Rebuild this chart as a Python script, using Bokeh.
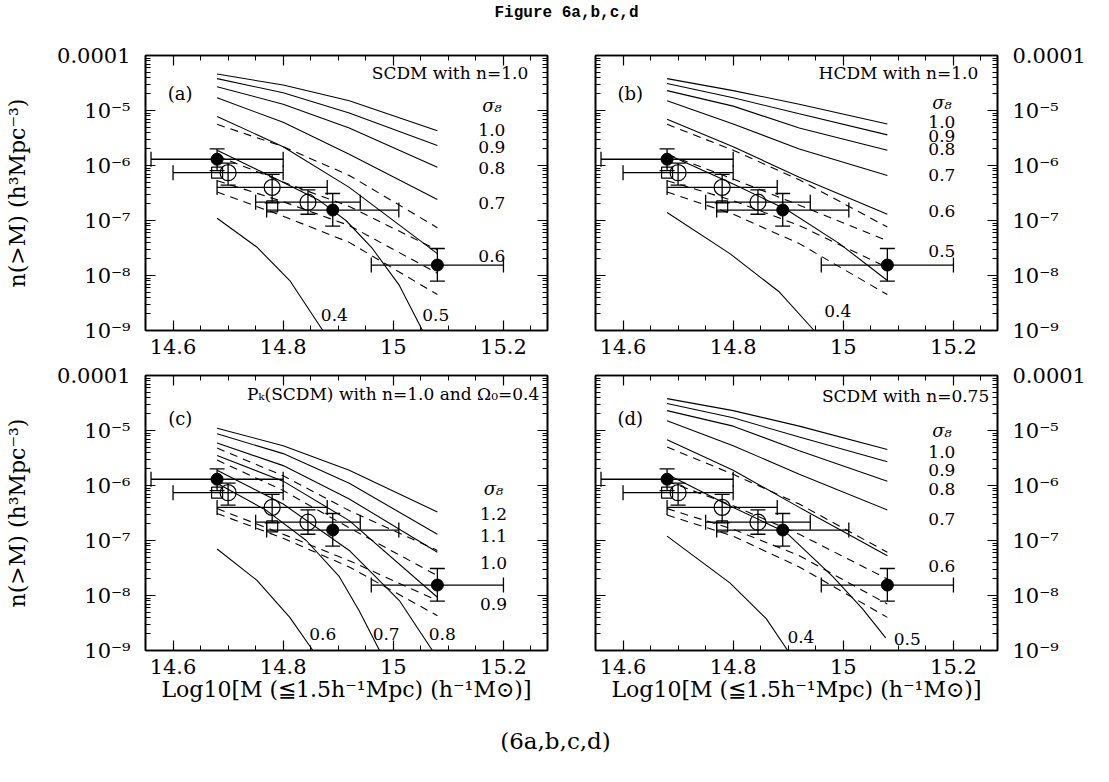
from bokeh.plotting import figure
from bokeh.models import (Range1d, LinearAxis, LogAxis, FixedTicker, Whisker,
                          TeeHead, ColumnDataSource, Label)
from bokeh.layouts import column, row
from bokeh.embed import file_html
from bokeh.resources import INLINE

SERIF = "DejaVu Serif"

# ---------------- cluster abundance data (same in all panels) ----------------
filled_logm = [14.68, 14.89, 15.08]
filled_n = [1.3e-6, 1.55e-7, 1.55e-8]
filled_n_hi = [2.0e-6, 3.1e-7, 3.1e-8]
filled_n_lo = [8.1e-7, 7.9e-8, 7.9e-9]
filled_logm_lo = [14.56, 14.77, 14.96]
filled_logm_hi = [14.80, 15.01, 15.20]

open_logm = [14.70, 14.78, 14.845]
open_n = [7.4e-7, 4.0e-7, 2.15e-7]
open_n_hi = [1.1e-6, 6.9e-7, 3.6e-7]
open_n_lo = [4.4e-7, 2.1e-7, 1.3e-7]
open_logm_lo = [14.60, 14.68, 14.75]
open_logm_hi = [14.80, 14.88, 14.94]

square_logm = [14.68, 14.78]
square_n = [7.4e-7, 1.8e-7]

# ---------------- model predictions ----------------
model_logm = [14.68, 14.80, 14.92, 15.08]

# (a) SCDM, n = 1.0
a_s10 = [4.6e-5, 2.9e-5, 1.5e-5, 4.3e-6]
a_s09 = [3.8e-5, 2.1e-5, 9.0e-6, 2.3e-6]
a_s08 = [2.7e-5, 1.3e-5, 4.8e-6, 9.3e-7]
a_s07 = [1.7e-5, 6.1e-6, 1.6e-6, 2.4e-7]
a_s06 = [7.8e-6, 2.2e-6, 4.0e-7, 2.5e-8]
a_s05_logm = [14.68, 14.794, 14.866, 14.914, 14.962, 15.011, 15.053]
a_s05 = [1.9e-6, 5.3e-7, 2.3e-7, 1.0e-7, 3.1e-8, 6.6e-9, 1.0e-9]
a_s04_logm = [14.68, 14.752, 14.812, 14.872]
a_s04 = [1.1e-7, 3.3e-8, 8.1e-9, 1.0e-9]
a_d1 = [5.6e-6, 2.2e-6, 6.6e-7, 7.4e-8]
a_d2 = [1.5e-6, 5.0e-7, 1.8e-7, 2.9e-8]
a_d3 = [5.3e-7, 2.2e-7, 8.1e-8, 1.1e-8]
a_d4 = [3.3e-7, 1.2e-7, 4.0e-8, 4.5e-9]

# (b) HCDM, n = 1.0
b_s10 = [3.8e-5, 2.3e-5, 1.3e-5, 5.7e-6]
b_s09 = [3.1e-5, 1.7e-5, 8.7e-6, 3.6e-6]
b_s08 = [2.3e-5, 1.2e-5, 4.8e-6, 1.9e-6]
b_s07 = [1.5e-5, 5.7e-6, 2.0e-6, 6.6e-7]
b_s06 = [6.9e-6, 2.2e-6, 6.1e-7, 1.3e-7]
b_s05_logm = [14.68, 14.80, 14.896, 14.993, 15.08]
b_s05 = [1.6e-6, 4.6e-7, 1.6e-7, 3.8e-8, 8.1e-9]
b_s04_logm = [14.68, 14.794, 14.884, 14.947]
b_s04 = [1.4e-7, 2.5e-8, 5.0e-9, 1.0e-9]
b_d1 = [5.6e-6, 1.9e-6, 5.5e-7, 7.6e-8]
b_d2 = [1.6e-6, 5.7e-7, 1.9e-7, 4.3e-8]
b_d3 = [5.3e-7, 2.3e-7, 8.1e-8, 1.4e-8]
b_d4 = [3.3e-7, 1.3e-7, 3.8e-8, 4.5e-9]

# (c) P_k(SCDM), n = 1.0, Omega_0 = 0.4
c_s12 = [1.1e-5, 5.3e-6, 1.9e-6, 3.3e-7]
c_s11 = [8.7e-6, 3.8e-6, 1.1e-6, 1.3e-7]
c_s10 = [5.9e-6, 2.3e-6, 5.7e-7, 6.1e-8]
c_s09 = [3.5e-6, 1.2e-6, 2.3e-7, 9.3e-9]
c_s08_logm = [14.68, 14.80, 14.92, 15.011, 15.071]
c_s08 = [1.9e-6, 4.6e-7, 6.6e-8, 8.1e-9, 1.0e-9]
c_s07_logm = [14.68, 14.770, 14.842, 14.902, 14.938, 14.975]
c_s07 = [1.1e-6, 3.5e-7, 1.0e-7, 2.2e-8, 5.3e-9, 1.0e-9]
c_s06_logm = [14.68, 14.752, 14.812, 14.854]
c_s06 = [7.0e-8, 1.9e-8, 4.0e-9, 1.0e-9]
c_d1 = [4.8e-6, 1.5e-6, 3.5e-7, 6.6e-8]
c_d2 = [2.9e-6, 8.1e-7, 1.7e-7, 2.3e-8]
c_d3 = [3.8e-7, 1.3e-7, 4.3e-8, 8.1e-9]
c_d4 = [3.1e-7, 1.1e-7, 3.3e-8, 4.3e-9]

# (d) SCDM, n = 0.75
d_s10 = [3.8e-5, 2.3e-5, 1.2e-5, 4.5e-6]
d_s09 = [3.1e-5, 1.7e-5, 7.6e-6, 2.7e-6]
d_s08 = [2.3e-5, 1.2e-5, 4.3e-6, 1.2e-6]
d_s07 = [1.5e-5, 5.3e-6, 1.6e-6, 3.6e-7]
d_s06 = [6.8e-6, 1.9e-6, 4.0e-7, 5.3e-8]
d_s05_logm = [14.68, 14.80, 14.896, 14.981, 15.035, 15.077]
d_s05 = [1.6e-6, 4.0e-7, 1.4e-7, 2.2e-8, 5.7e-9, 1.7e-9]
d_s04_logm = [14.68, 14.794, 14.860, 14.899]
d_s04 = [1.2e-7, 1.7e-8, 3.8e-9, 1.0e-9]
d_d1 = [5.0e-6, 1.6e-6, 4.6e-7, 6.1e-8]
d_d2 = [1.2e-6, 4.3e-7, 1.3e-7, 2.0e-8]
d_d3 = [3.8e-7, 1.6e-7, 5.3e-8, 7.0e-9]
d_d4 = [2.9e-7, 1.2e-7, 3.3e-8, 4.0e-9]

# ---------------- axes ----------------
x_major = [14.6, 14.8, 15.0, 15.2]
x_tick_labels = ["14.6", "14.8", "15", "15.2"]
x_minor = [14.55, 14.65, 14.7, 14.75, 14.85, 14.9, 14.95, 15.05, 15.1, 15.15, 15.25]
y_major = [1e-9, 1e-8, 1e-7, 1e-6, 1e-5, 1e-4]
y_tick_labels = ["10⁻⁹", "10⁻⁸", "10⁻⁷", "10⁻⁶", "10⁻⁵", "0.0001"]
y_minor = [k * 10.0 ** e for e in range(-9, -4) for k in range(2, 10)]

X_RANGE = (14.55, 15.28)
Y_RANGE = (1e-9, 1e-4)
FRAME_W, FRAME_H = 402, 275
TICK_FONT = "21px"
TITLE_FONT = "22px"
INNER_FONT = "17px"


def style_axis(ax, labels):
    ax.axis_line_color = "black"
    ax.axis_line_width = 1.6
    ax.major_tick_in = 10
    ax.major_tick_out = 0
    ax.minor_tick_in = 5
    ax.minor_tick_out = 0
    ax.major_tick_line_width = 1.2
    ax.minor_tick_line_width = 1.0
    ax.major_label_text_font = SERIF
    ax.major_label_text_color = "black"
    ax.axis_label_text_color = "black"
    if labels is None:
        ax.major_label_overrides = {t: "" for t in ax.ticker.ticks}
        ax.major_label_text_font_size = "1px"
        ax.major_label_standoff = 0
    else:
        ax.major_label_overrides = dict(zip(ax.ticker.ticks, labels))
        ax.major_label_text_font_size = TICK_FONT


def panel(spec, width, height, borders, left_lab, right_lab, xtitle, ytitle):
    bl, br, bt, bb = borders
    p = figure(width=width, height=height,
               x_range=Range1d(*X_RANGE), y_range=Range1d(*Y_RANGE),
               y_axis_type="log", x_axis_location=None, y_axis_location=None,
               toolbar_location=None, output_backend="svg",
               min_border_left=bl, min_border_right=br,
               min_border_top=bt, min_border_bottom=bb)
    p.grid.visible = False
    p.outline_line_color = "black"
    p.outline_line_width = 1.6
    p.background_fill_color = "white"
    p.border_fill_color = "white"

    for loc in ("below", "above"):
        ax = LinearAxis(ticker=FixedTicker(ticks=x_major, minor_ticks=x_minor))
        style_axis(ax, x_tick_labels if loc == "below" else None)
        if loc == "below":
            ax.major_label_standoff = 8
            if xtitle:
                ax.axis_label = xtitle
                ax.axis_label_text_font = SERIF
                ax.axis_label_text_font_size = TITLE_FONT
                ax.axis_label_text_font_style = "normal"
                ax.axis_label_standoff = 0
        p.add_layout(ax, loc)

    for loc, lab in (("left", left_lab), ("right", right_lab)):
        ax = LogAxis(ticker=FixedTicker(ticks=y_major, minor_ticks=y_minor))
        style_axis(ax, y_tick_labels if lab else None)
        if lab:
            ax.major_label_standoff = 15
        if loc == "left" and ytitle:
            ax.axis_label = ytitle
            ax.axis_label_text_font = SERIF
            ax.axis_label_text_font_size = TITLE_FONT
            ax.axis_label_text_font_style = "normal"
            ax.axis_label_standoff = 24
        p.add_layout(ax, loc)

    # model curves
    for xs, ys in spec["solid"]:
        p.line(xs, ys, line_color="black", line_width=1.1)
    for xs, ys in spec["dashed"]:
        p.line(xs, ys, line_color="black", line_width=1.1, line_dash="8 6")

    # error bars
    head = dict(size=15, line_width=1.3, line_color="black")
    for base, lo, hi, dim in (
            (filled_logm, filled_n_lo, filled_n_hi, "height"),
            (open_logm, open_n_lo, open_n_hi, "height"),
            (filled_n, filled_logm_lo, filled_logm_hi, "width"),
            (open_n, open_logm_lo, open_logm_hi, "width")):
        src = ColumnDataSource(dict(base=base, lower=lo, upper=hi))
        p.add_layout(Whisker(source=src, base="base", lower="lower", upper="upper",
                             dimension=dim, line_color="black", line_width=1.3,
                             upper_head=TeeHead(**head), lower_head=TeeHead(**head),
                             level="glyph"))

    # data points
    p.scatter(square_logm, square_n, marker="square", size=11,
              fill_color=None, line_color="black", line_width=1.2)
    p.scatter(open_logm, open_n, marker="circle", size=16,
              fill_color=None, line_color="black", line_width=1.2)
    p.scatter(filled_logm, filled_n, marker="circle", size=12,
              fill_color="black", line_color="black")

    for x, y, text, align, size, style in spec["texts"]:
        p.add_layout(Label(x=x, y=y, text=text, text_align=align,
                           text_baseline="middle", text_font=SERIF,
                           text_font_size=size, text_font_style=style,
                           text_color="black"))
    return p


def sigma_texts(x, entries):
    return [(x, y, t, "center", INNER_FONT, "normal") for y, t in entries]


def tag(x, y, t):
    return (x, y, t, "center", INNER_FONT, "normal")


spec_a = dict(
    solid=[(model_logm, a_s10), (model_logm, a_s09), (model_logm, a_s08),
           (model_logm, a_s07), (model_logm, a_s06),
           (a_s05_logm, a_s05), (a_s04_logm, a_s04)],
    dashed=[(model_logm, a_d1), (model_logm, a_d2), (model_logm, a_d3), (model_logm, a_d4)],
    texts=[(14.613, 2.0e-5, "(a)", "center", "18px", "normal"),
           (15.245, 4.9e-5, "SCDM with n=1.0", "right", INNER_FONT, "normal"),
           (15.179, 1.23e-5, "σ₈", "center", "18px", "italic")]
    + sigma_texts(15.179, [(4.4e-6, "1.0"), (2.2e-6, "0.9"), (9.0e-7, "0.8"),
                           (2.1e-7, "0.7"), (2.3e-8, "0.6")])
    + [tag(14.893, 1.9e-9, "0.4"), tag(15.077, 1.9e-9, "0.5")],
)

spec_b = dict(
    solid=[(model_logm, b_s10), (model_logm, b_s09), (model_logm, b_s08),
           (model_logm, b_s07), (model_logm, b_s06),
           (b_s05_logm, b_s05), (b_s04_logm, b_s04)],
    dashed=[(model_logm, b_d1), (model_logm, b_d2), (model_logm, b_d3), (model_logm, b_d4)],
    texts=[(14.613, 2.0e-5, "(b)", "center", "18px", "normal"),
           (15.245, 4.9e-5, "HCDM with n=1.0", "right", INNER_FONT, "normal"),
           (15.179, 1.4e-5, "σ₈", "center", "18px", "italic")]
    + sigma_texts(15.179, [(6.3e-6, "1.0"), (3.4e-6, "0.9"), (2.0e-6, "0.8"),
                           (6.6e-7, "0.7"), (1.5e-7, "0.6"), (2.8e-8, "0.5")])
    + [tag(14.99, 2.3e-9, "0.4")],
)

spec_c = dict(
    solid=[(model_logm, c_s12), (model_logm, c_s11), (model_logm, c_s10),
           (model_logm, c_s09), (c_s08_logm, c_s08), (c_s07_logm, c_s07),
           (c_s06_logm, c_s06)],
    dashed=[(model_logm, c_d1), (model_logm, c_d2), (model_logm, c_d3), (model_logm, c_d4)],
    texts=[(14.613, 1.66e-5, "(c)", "center", "18px", "normal"),
           (15.265, 4.6e-5, "Pₖ(SCDM) with n=1.0 and Ω₀=0.4", "right", INNER_FONT, "normal"),
           (15.182, 8.7e-7, "σ₈", "center", "18px", "italic")]
    + sigma_texts(15.182, [(3.0e-7, "1.2"), (1.2e-7, "1.1"), (3.9e-8, "1.0"),
                           (7.0e-9, "0.9")])
    + [tag(14.872, 2.0e-9, "0.6"), tag(14.987, 2.0e-9, "0.7"), tag(15.089, 2.0e-9, "0.8")],
)

spec_d = dict(
    solid=[(model_logm, d_s10), (model_logm, d_s09), (model_logm, d_s08),
           (model_logm, d_s07), (model_logm, d_s06),
           (d_s05_logm, d_s05), (d_s04_logm, d_s04)],
    dashed=[(model_logm, d_d1), (model_logm, d_d2), (model_logm, d_d3), (model_logm, d_d4)],
    texts=[(14.613, 1.66e-5, "(d)", "center", "18px", "normal"),
           (15.265, 4.3e-5, "SCDM with n=0.75", "right", INNER_FONT, "normal"),
           (15.179, 1.0e-5, "σ₈", "center", "18px", "italic")]
    + sigma_texts(15.179, [(4.0e-6, "1.0"), (1.9e-6, "0.9"), (8.7e-7, "0.8"),
                           (2.5e-7, "0.7"), (3.4e-8, "0.6")])
    + [tag(15.116, 1.6e-9, "0.5"), tag(14.923, 1.75e-9, "0.4")],
)

YTITLE = "n(>M) (h³Mpc⁻³)"
XTITLE = "Log10[M (≦1.5h⁻¹Mpc) (h⁻¹M⊙)]"

LEFT_W = 145 + FRAME_W + 10
RIGHT_W = 1109 - LEFT_W
TITLE_H = 30
TOP_H = 25 + FRAME_H + 33
BOT_H = 12 + FRAME_H + 60
CAPTION_H = 782 - TITLE_H - TOP_H - BOT_H

pa = panel(spec_a, LEFT_W, TOP_H, (145, 10, 25, 33), True, False, None, YTITLE)
pb = panel(spec_b, RIGHT_W, TOP_H, (38, RIGHT_W - 38 - FRAME_W, 25, 33), False, True, None, None)
pc = panel(spec_c, LEFT_W, BOT_H, (145, 10, 12, 60), True, False, XTITLE, YTITLE)
pd = panel(spec_d, RIGHT_W, BOT_H, (38, RIGHT_W - 38 - FRAME_W, 12, 60), False, True, XTITLE, None)


def text_strip(height, x, y, text, font, size, style):
    p = figure(width=1109, height=height, x_range=Range1d(0, 1109), y_range=Range1d(0, height),
               x_axis_location=None, y_axis_location=None, toolbar_location=None,
               output_backend="svg", min_border=0)
    p.grid.visible = False
    p.outline_line_color = None
    p.add_layout(Label(x=x, y=y, text=text, text_align="center", text_baseline="middle",
                       text_font=font, text_font_size=size, text_font_style=style,
                       text_color="black"))
    return p


title_strip = text_strip(TITLE_H, 566, 18, "Figure 6a,b,c,d", "Liberation Mono", "16px", "bold")
caption_strip = text_strip(CAPTION_H, 555, CAPTION_H - 30, "(6a,b,c,d)", SERIF, "23px", "normal")

layout = column(title_strip, row(pa, pb), row(pc, pd), caption_strip)

open("out.html", "w").write(file_html(layout, INLINE, "Figure 6a,b,c,d"))
